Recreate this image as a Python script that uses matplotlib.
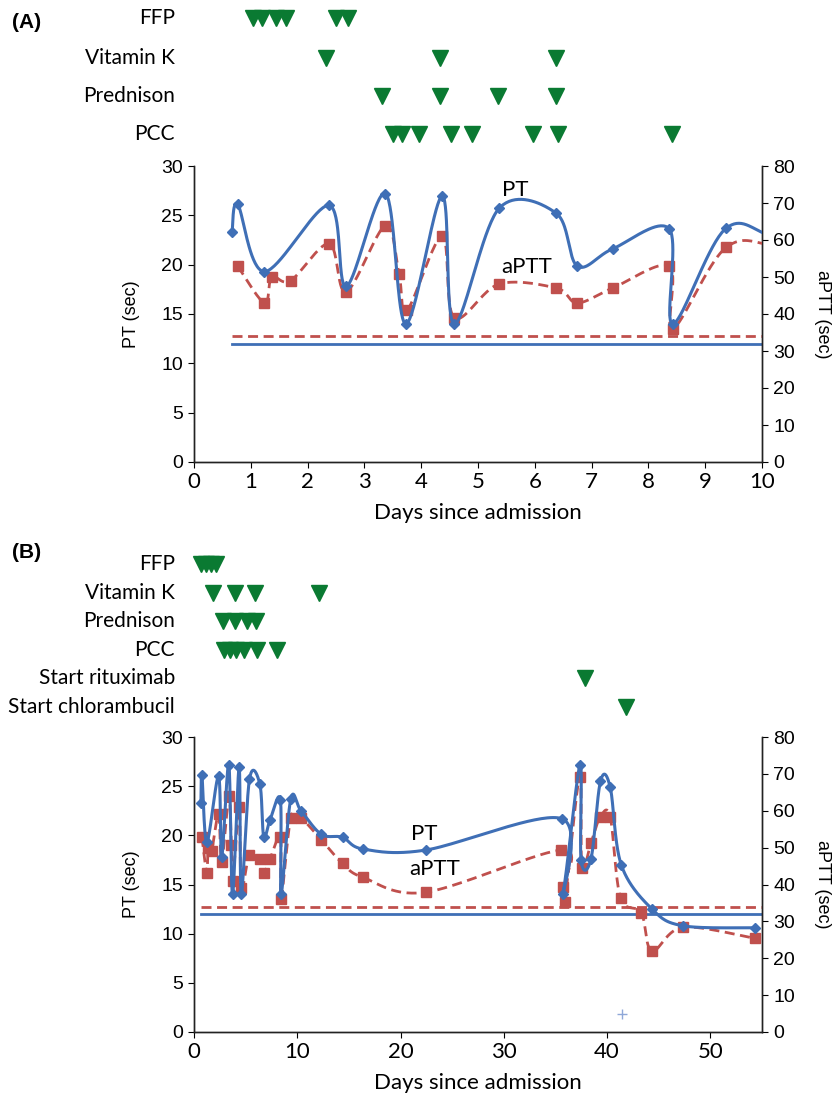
import numpy as np
import matplotlib
matplotlib.use('Agg')
import matplotlib.pyplot as plt
from matplotlib.transforms import blended_transform_factory

# PT and aPTT measurements (days since admission)
pt_days = [0.67, 0.77, 1.24, 2.38, 2.68, 3.37, 3.73, 4.37, 4.58, 5.37, 6.38, 6.75,
           7.37, 8.37, 8.43, 9.37, 10.36, 12.33, 14.38, 16.39, 22.43, 35.6, 35.7,
           37.38, 37.48, 38.44, 39.36, 40.3, 41.37, 44.35, 47.35, 54.3]
pt_vals = [23.3, 26.1, 19.3, 26.0, 17.8, 27.2, 14.0, 26.95, 14.0, 25.7, 25.2, 19.85,
           21.6, 23.6, 14.0, 23.7, 22.5, 20.1, 19.8, 18.6, 18.5, 21.7, 14.0,
           27.2, 17.5, 17.6, 25.5, 24.9, 17.0, 12.5, 10.8, 10.6]

aptt_days = [0.77, 1.24, 1.37, 1.70, 2.38, 2.68, 3.37, 3.61, 3.75, 4.37, 4.58, 5.37,
             6.38, 6.75, 7.37, 8.37, 8.43, 9.37, 10.36, 12.33, 14.38, 16.39, 22.43,
             35.56, 35.72, 35.9, 37.34, 37.56, 38.44, 39.34, 40.3, 41.3, 43.3, 44.34,
             47.35, 54.3]
aptt_vals = [52.9, 43.0, 50.0, 49.0, 59.0, 46.0, 63.9, 50.8, 41.0, 61.0, 39.0, 48.1,
             47.0, 43.0, 47.0, 52.9, 36.0, 58.0, 58.0, 52.1, 45.7, 41.9, 37.9,
             49.3, 39.4, 35.3, 69.2, 44.5, 51.3, 58.3, 58.3, 36.4, 32.4, 22.0,
             28.4, 25.4]

pt_upper = 12.0
aptt_upper = 34.0
ref_span = [0.67, 55]

# treatments, panel A
events_a = {
    'FFP': [1.03, 1.19, 1.45, 1.62, 2.50, 2.72],
    'Vitamin K': [2.33, 4.33, 6.37],
    'Prednison': [3.31, 4.33, 5.35, 6.37],
    'PCC': [3.50, 3.66, 3.97, 4.52, 4.89, 5.96, 6.41, 8.42],
}
# treatments, panel B
events_b = {
    'FFP': [0.65, 1.2, 1.6, 2.15],
    'Vitamin K': [1.84, 3.94, 5.94, 12.08],
    'Prednison': [2.78, 3.97, 5.1, 6.0],
    'PCC': [2.9, 3.5, 4.1, 4.8, 6.1, 8.0],
    'Start rituximab': [37.85],
    'Start chlorambucil': [41.8],
}
rows_a_y = [18, 58, 96, 134]
rows_b_y = [564, 593, 621, 650, 678, 707]

BLUE = '#3f6fb6'
RED = '#c0504d'
GREEN = '#0a7a32'
W, H = 834, 1099
NARROW = 'Lato'
ARIAL = 'Liberation Sans'


def smooth(xs, ys, sx, sy, n=40):
    # excel-like smoothed line (catmull-rom bezier in screen units)
    P = np.column_stack([np.array(xs) * sx, np.array(ys) * sy])
    out = []
    for i in range(len(P) - 1):
        p0 = P[i - 1] if i > 0 else P[i]
        p1, p2 = P[i], P[i + 1]
        p3 = P[i + 2] if i + 2 < len(P) else P[i + 1]
        c1 = p1 + (p2 - p0) / 6
        c2 = p2 - (p3 - p1) / 6
        t = np.linspace(0, 1, n)[:, None]
        seg = (1 - t)**3 * p1 + 3 * (1 - t)**2 * t * c1 + 3 * (1 - t) * t**2 * c2 + t**3 * p2
        out.append(seg if i == 0 else seg[1:])
    arr = np.vstack(out)
    return arr[:, 0] / sx, arr[:, 1] / sy


def panel(top, bottom, xmax, xticks, events, rows_y, letter, letter_y, pt_lab, aptt_lab, plus=False):
    left, right = 194, 762
    ax = fig.add_axes([left / W, 1 - bottom / H, (right - left) / W, (bottom - top) / H])
    ax2 = ax.twinx()
    sx = (right - left) / xmax
    sy1 = (bottom - top) / 30
    sy2 = (bottom - top) / 80

    ax.plot(ref_span, [pt_upper, pt_upper], color=BLUE, lw=2.0, zorder=2)
    ax2.plot(ref_span, [aptt_upper, aptt_upper], color=RED, lw=2.0,
             linestyle=(0, (3.6, 2)), zorder=2)

    xs, ys = smooth(aptt_days, aptt_vals, sx, sy2)
    ax2.plot(xs, ys, color=RED, lw=2.0, linestyle=(0, (3.6, 2)), zorder=3)
    ax2.plot(aptt_days, aptt_vals, 's', color=RED, ms=7, zorder=4)

    xs, ys = smooth(pt_days, pt_vals, sx, sy1)
    ax2.plot(xs, np.array(ys) * 80 / 30, color=BLUE, lw=2.2, zorder=5)
    ax2.plot(pt_days, np.array(pt_vals) * 80 / 30, 'D', color=BLUE, ms=5, zorder=6)

    if plus:
        ax.plot([41.4], [1.8], '+', color='#8fa8d8', ms=7, mew=1)

    ax.set_xlim(0, xmax)
    ax.set_ylim(0, 30)
    ax2.set_ylim(0, 80)
    ax.set_xticks(xticks)
    ax.set_yticks(range(0, 31, 5))
    ax2.set_yticks(range(0, 81, 10))
    for a in (ax, ax2):
        a.spines['top'].set_visible(False)
        for s in a.spines.values():
            s.set_linewidth(1.0)
            s.set_color('#222222')
    ax.tick_params(axis='x', direction='out', length=4, labelsize=16, pad=3)
    ax.tick_params(axis='y', direction='out', length=4, labelsize=14, pad=4)
    ax2.tick_params(axis='y', direction='out', length=4, labelsize=14, pad=4)
    for lab in ax.get_xticklabels():
        lab.set_fontfamily(NARROW)
    for lab in ax.get_yticklabels() + ax2.get_yticklabels():
        lab.set_fontfamily(ARIAL)
    ax.set_xlabel('Days since admission', fontsize=16, family=NARROW, labelpad=8)

    cy = 1 - ((top + bottom) / 2) / H
    fig.text(132 / W, cy, 'PT (sec)', rotation=90, fontsize=13, family=ARIAL,
             ha='center', va='center')
    fig.text(822 / W, cy, 'aPTT (sec)', rotation=270, fontsize=13, family=ARIAL,
             ha='center', va='center')

    ax.text(pt_lab[0], pt_lab[1], 'PT', fontsize=16, family=NARROW, ha='center', va='center')
    ax.text(aptt_lab[0], aptt_lab[1], 'aPTT', fontsize=16, family=NARROW, ha='center', va='center')

    tr = blended_transform_factory(ax.transData, fig.transFigure)
    for (name, days), ypix in zip(events.items(), rows_y):
        yf = 1 - ypix / H
        fig.text(175 / W, yf, name, fontsize=15, family=NARROW, ha='right', va='center')
        ax.plot(days, [yf] * len(days), 'v', color=GREEN, ms=11, transform=tr, clip_on=False)

    fig.text(12 / W, 1 - letter_y / H, letter, fontsize=15, family=ARIAL,
             weight='bold', ha='left', va='center')
    return ax


fig = plt.figure(figsize=(W / 100, H / 100), dpi=100)
panel(166, 462, 10, range(0, 11), events_a, rows_a_y, '(A)', 22, (5.66, 27.6), (5.86, 19.8))
panel(737, 1032, 55, range(0, 51, 10), events_b, rows_b_y, '(B)', 553, (22.3, 20.1), (23.3, 16.6), plus=True)

fig.savefig('out.png', dpi=100)
